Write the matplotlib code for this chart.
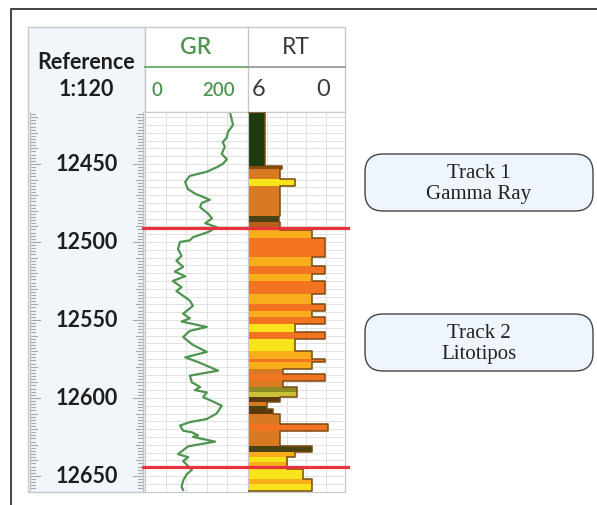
import numpy as np
import matplotlib
matplotlib.use("Agg")
import matplotlib.pyplot as plt
from matplotlib.patches import Rectangle, FancyBboxPatch
import matplotlib.transforms as mtransforms

# ---------------- data ----------------
depth_ticks = [12450, 12500, 12550, 12600, 12650]
depth_top, depth_base = 12416.7, 12660.3

gr_depth = [12417, 12421, 12425, 12429.5, 12433, 12436, 12439, 12443.6, 12447, 12450,
            12452, 12455, 12457.7, 12461.5, 12466, 12469, 12473, 12475, 12477.7, 12482,
            12485, 12488, 12490.5, 12493.6, 12497, 12499, 12500, 12504.5, 12509, 12512,
            12516, 12519, 12522, 12525, 12529, 12531.5, 12534.5, 12537.6, 12541, 12546,
            12549, 12551, 12554.5, 12557, 12561, 12566, 12570.5, 12574, 12577, 12582.5,
            12585.7, 12590, 12593, 12595, 12596.5, 12599.5, 12602, 12605, 12610, 12613.5,
            12615.5, 12617.7, 12621, 12622, 12624, 12625, 12628, 12629.5, 12631, 12633.5,
            12636, 12638, 12640.5, 12646, 12649, 12653, 12657, 12659]
gr_value = [165, 168, 171, 161, 159, 151, 155, 149, 159, 151,
            140, 120, 87, 78, 83, 97, 126, 110, 107, 123,
            130, 117, 139, 123, 93, 87, 68, 64, 71, 61,
            74, 58, 78, 54, 71, 61, 74, 87, 93, 74,
            87, 71, 120, 87, 74, 93, 120, 78, 103, 142,
            87, 91, 107, 97, 120, 113, 130, 149, 139, 120,
            87, 68, 74, 91, 103, 93, 136, 110, 84, 74,
            64, 84, 74, 91, 81, 74, 71, 74]

rt_top = [12416.7, 12451.3, 12453.2, 12459.6, 12464.1, 12483.3, 12487.2, 12492.3, 12497.5,
          12509.6, 12515.4, 12520.5, 12525.0, 12533.3, 12539.7, 12544.2, 12548.0, 12552.6,
          12557.7, 12562.2, 12569.9, 12575.0, 12577.0, 12581.4, 12584.6, 12589.1, 12592.9,
          12596.2, 12599.4, 12602.6, 12605.1, 12607.0, 12610.3, 12616.7, 12621.2, 12630.8,
          12634.6, 12637.8, 12641.0, 12645.5, 12651.9, 12655.1]
rt_base = rt_top[1:] + [12659.6]
rt_value = [4.95, 3.92, 4.02, 3.09, 4.02, 4.10, 4.02, 2.06, 1.24,
            2.06, 1.24, 2.06, 1.24, 2.06, 1.24, 2.06, 1.24, 3.09,
            1.24, 3.09, 2.06, 1.24, 2.06, 3.84, 1.24, 3.84, 2.99,
            2.99, 4.02, 4.84, 4.84, 4.45, 4.02, 1.05, 4.02, 2.06,
            3.09, 3.61, 3.61, 2.60, 2.06, 2.06]
rt_litho = ["A", "B", "C", "D", "C", "E", "K", "F", "G",
            "F", "G", "F", "G", "F", "G", "F", "G", "D",
            "G", "D", "F", "G", "F", "C", "G", "C", "H",
            "I", "J", "C", "E", "J", "C", "G", "C", "E",
            "F", "D", "F", "D", "F", "D"]
litho_colors = {"A": "#1f3b12", "B": "#8b4a13", "C": "#d87a22", "D": "#f7e21c",
                "E": "#4a4212", "F": "#f9ad1c", "G": "#f27420", "H": "#8c8a22",
                "I": "#c9c23a", "J": "#5a3a0c", "K": "#b8601a"}

marker_depths = [12491, 12644.2]

# ---------------- layout ----------------
W, H = 597, 506
fig = plt.figure(figsize=(W / 100, H / 100), dpi=100)
fig.patch.set_facecolor("white")

def px_axes(x0, y0, x1, y1, **kw):
    return fig.add_axes([x0 / W, 1 - y1 / H, (x1 - x0) / W, (y1 - y0) / H], **kw)

LBL = "Lato"
track_y0, track_y1 = 113, 493

# overlay (header, boxes, frame)
ov = px_axes(0, 0, W, H)
ov.set_xlim(0, W); ov.set_ylim(H, 0); ov.axis("off"); ov.set_zorder(0)

# outer frame
ov.plot([11, 11, W + 2], [H + 2, 10, 10], color="#333333", lw=1.3, clip_on=False)

# reference column background (header + depth)
ov.add_patch(Rectangle((28, 28), 117, 465, facecolor="#f1f6fb", edgecolor="#c8c8c8", lw=1))
ov.add_patch(Rectangle((145, 28), 200, 85, facecolor="white", edgecolor="#c8c8c8", lw=1))
ov.plot([248, 248], [28, 113], color="#c8c8c8", lw=1)
ov.plot([145, 248], [68, 68], color="#6aa86a", lw=1.3)
ov.plot([248, 345], [68, 68], color="#9a9a9a", lw=1.3)
ov.text(86, 62, "Reference", ha="center", va="center", fontsize=15.5, fontweight="bold",
        family=LBL, color="#1e1e1e")
ov.text(86, 89, "1:120", ha="center", va="center", fontsize=15.5, fontweight="bold",
        family=LBL, color="#1e1e1e")
ov.text(196, 47, "GR", ha="center", va="center", fontsize=16.5, fontweight="semibold",
        family=LBL, color="#4f9450")
ov.text(151, 90, "0", ha="left", va="center", fontsize=13.5, fontweight="semibold",
        family=LBL, color="#4f9450")
ov.text(235, 90, "200", ha="right", va="center", fontsize=13.5, fontweight="semibold",
        family=LBL, color="#4f9450")
ov.text(296, 47, "RT", ha="center", va="center", fontsize=16.5, family=LBL, color="#3a3a3a")
ov.text(259, 89, "6", ha="center", va="center", fontsize=17, family=LBL, color="#3a3a3a")
ov.text(323, 89, "0", ha="center", va="center", fontsize=17, family=LBL, color="#3a3a3a")

# explanatory boxes
for (y0, l1, l2) in [(155, "Track 1", "Gamma Ray"), (315, "Track 2", "Litotipos")]:
    ov.add_patch(FancyBboxPatch((365, y0), 228, 57,
                                boxstyle="round,pad=0,rounding_size=18",
                                facecolor="#eef5fc", edgecolor="#444444", lw=1.0))
    ov.text(479, y0 + 18, l1, ha="center", va="center", fontsize=15,
            family="Liberation Serif", color="#222222")
    ov.text(479, y0 + 40, l2, ha="center", va="center", fontsize=15,
            family="Liberation Serif", color="#222222")

# ---------------- depth track ----------------
axd = px_axes(28, track_y0, 145, track_y1)
axd.set_ylim(depth_base, depth_top)
axd.set_xlim(0, 1)
axd.patch.set_alpha(0)
for s in axd.spines.values():
    s.set_visible(False)
axd.set_xticks([]); axd.set_yticks([])
for d in np.arange(12418, 12660, 2):
    if d % 50 == 0:
        ln = 0.085
    elif d % 10 == 0:
        ln = 0.06
    else:
        ln = 0.04
    axd.plot([0.02, 0.02 + ln], [d, d], color="#a8a8a8", lw=0.8)
    axd.plot([0.98 - ln, 0.98], [d, d], color="#a8a8a8", lw=0.8)
axd.plot([0.02, 0.02], [depth_top, depth_base], color="#c0c0c0", lw=0.8)
axd.plot([0.98, 0.98], [depth_top, depth_base], color="#c0c0c0", lw=0.8)
for d in depth_ticks:
    axd.text(0.5, d, str(d), ha="center", va="center", fontsize=15.5, fontweight="bold",
             family=LBL, color="#1e1e1e")

# ---------------- GR track ----------------
axg = px_axes(145, track_y0, 248, track_y1)
axg.set_xlim(0, 200)
axg.set_ylim(depth_base, depth_top)
axg.set_xticks([40, 80, 120, 160])
axg.set_yticks(np.arange(12420, 12660, 5))
axg.grid(True, color="#e2e2e2", lw=0.7)
axg.tick_params(length=0, labelbottom=False, labelleft=False)
for s in axg.spines.values():
    s.set_color("#c8c8c8")
axg.plot(gr_value, gr_depth, color="#4f9450", lw=1.6)

# ---------------- RT / lithotype track ----------------
axr = px_axes(248, track_y0, 345, track_y1)
axr.set_xlim(6, 0)
axr.set_ylim(depth_base, depth_top)
axr.set_xticks(np.arange(1.2, 6, 1.2))
axr.set_yticks(np.arange(12420, 12660, 5))
axr.grid(True, color="#e2e2e2", lw=0.7)
axr.set_axisbelow(True)
axr.tick_params(length=0, labelbottom=False, labelleft=False)
for s in axr.spines.values():
    s.set_color("#c8c8c8")
tops = np.array(rt_top); bases = np.array(rt_base); vals = np.array(rt_value)
axr.barh((tops + bases) / 2, 6 - vals, height=bases - tops, left=vals,
         color=[litho_colors[c] for c in rt_litho], lw=0, zorder=2)
# step outline along the right edge of the bars
ys = np.column_stack([tops, bases]).ravel()
xs = np.repeat(vals, 2)
ys = np.concatenate([[tops[0]], ys, [bases[-1]]])
xs = np.concatenate([[6], xs, [6]])
axr.plot(xs, ys, color="#7a4a12", lw=1.1, zorder=3)

# marker lines
tg = mtransforms.blended_transform_factory(axg.transAxes, axg.transData)
tr = mtransforms.blended_transform_factory(axr.transAxes, axr.transData)
for md in marker_depths:
    axg.plot([-0.02, 1.0], [md, md], color="#e8323c", lw=2.3, transform=tg,
             clip_on=False, zorder=5)
    axr.plot([0.0, 1.035], [md, md], color="#e8323c", lw=2.3, transform=tr,
             clip_on=False, zorder=5)

fig.savefig("out.png", dpi=100)
